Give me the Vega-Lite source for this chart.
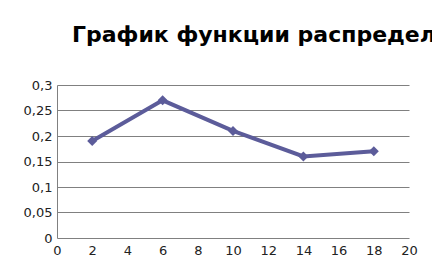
{
  "$schema": "https://vega.github.io/schema/vega-lite/v6.json",
  "autosize": "none",
  "width": 352,
  "height": 153,
  "padding": {"left": 57, "top": 85, "right": 23, "bottom": 31},
  "background": "white",
  "title": {
    "text": "График функции распределения",
    "anchor": "start",
    "frame": "group",
    "dx": 15,
    "offset": 15,
    "baseline": "alphabetic",
    "font": "DejaVu Sans",
    "fontSize": 22,
    "fontWeight": "bold",
    "color": "black"
  },
  "data": {
    "values": [
      {"x": 2, "y": 0.19},
      {"x": 6, "y": 0.27},
      {"x": 10, "y": 0.21},
      {"x": 14, "y": 0.16},
      {"x": 18, "y": 0.17}
    ]
  },
  "mark": {
    "type": "line",
    "color": "#5c5c9a",
    "strokeWidth": 4,
    "point": {"shape": "diamond", "size": 100, "filled": true, "color": "#5c5c9a"}
  },
  "encoding": {
    "x": {
      "field": "x",
      "type": "quantitative",
      "scale": {"domain": [0, 20], "nice": false},
      "axis": {
        "title": null,
        "values": [0, 2, 4, 6, 8, 10, 12, 14, 16, 18, 20],
        "grid": false,
        "domain": false,
        "ticks": false,
        "labelPadding": 6,
        "labelFont": "DejaVu Sans",
        "labelFontSize": 13,
        "labelColor": "#222",
        "labelFlush": false
      }
    },
    "y": {
      "field": "y",
      "type": "quantitative",
      "scale": {"domain": [0, 0.3], "nice": false},
      "axis": {
        "title": null,
        "values": [0, 0.05, 0.1, 0.15, 0.2, 0.25, 0.3],
        "labelExpr": "replace(format(datum.value, '.2~f'), '.', ',')",
        "grid": true,
        "gridColor": "#808080",
        "gridOpacity": 1,
        "gridWidth": 1,
        "domain": true,
        "domainColor": "#808080",
        "ticks": false,
        "labelPadding": 5,
        "labelFont": "DejaVu Sans",
        "labelFontSize": 13,
        "labelColor": "#222",
        "labelFlush": false
      }
    }
  },
  "config": {"view": {"stroke": null}}
}
